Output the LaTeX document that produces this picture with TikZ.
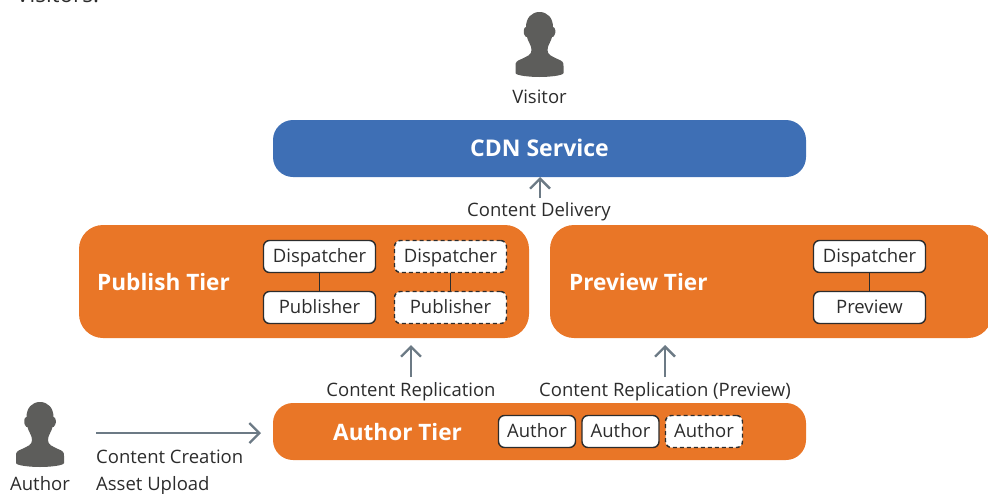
\documentclass[tikz,border=0pt]{standalone}
\usepackage{fontspec}
\setmainfont{Open Sans}
\usetikzlibrary{arrows.meta}
\definecolor{tierorange}{HTML}{E97627}
\definecolor{cdnblue}{HTML}{3E6FB5}
\definecolor{iconGray}{HTML}{5D5D5B}
\definecolor{arrowGray}{HTML}{6C7A85}
\definecolor{inkDark}{HTML}{2C2C2C}
\newcommand{\bodysize}{\fontsize{18.5}{20}\selectfont}
\newcommand{\titlesize}{\fontsize{22.6}{26}\selectfont\bfseries}
\tikzset{
  tier/.style={fill=tierorange,rounded corners=24,inner sep=0},
  tierlabel/.style={text=white,font=\titlesize,anchor=west,inner sep=0},
  cbox/.style={draw=inkDark,fill=white,line width=1.4pt,rounded corners=6,minimum height=32pt,text=inkDark,font=\bodysize,inner sep=0,text height=14pt,text depth=1.5pt},
  dbox/.style={cbox,dashed,dash pattern=on 4pt off 3pt},
  lbl/.style={text=inkDark,font=\bodysize,inner sep=0,text height=14pt,text depth=1.5pt},
  link/.style={draw=inkDark,line width=1.4pt},
  flow/.style={draw=arrowGray,line width=2.3pt,-{Straight Barb[length=10pt,width=20pt,line width=2.3pt]}},
  person/.pic={
    \fill[iconGray] (0,0) .. controls (8,0) and (13.5,6) .. (13.5,15)
      .. controls (16,15) and (16.5,21) .. (15,23) .. controls (14.5,25) and (13,25) .. (12.5,25)
      .. controls (11.5,30) and (8,33) .. (8,38) .. controls (8,43) and (12,44) .. (18,47)
      .. controls (23,49) and (24,50) .. (24,54) -- (24,61) .. controls (24,63.5) and (10,65) .. (0,65)
      .. controls (-10,65) and (-24,63.5) .. (-24,61) -- (-24,54) .. controls (-24,50) and (-23,49) .. (-18,47)
      .. controls (-12,44) and (-8,43) .. (-8,38) .. controls (-8,33) and (-11.5,30) .. (-12.5,25)
      .. controls (-13,25) and (-14.5,25) .. (-15,23) .. controls (-16.5,21) and (-16,15) .. (-13.5,15)
      .. controls (-13.5,6) and (-8,0) .. (0,0) -- cycle;
  }
}
\begin{document}
\begin{tikzpicture}[x=1pt,y=-1pt]
\useasboundingbox (0,0) rectangle (988,493);
\clip (0,0) rectangle (988,493);
% cropped heading
\node[text=inkDark,font=\fontsize{22.5}{26}\selectfont,inner sep=0,anchor=base west] (cut) at (16,2.5) {Visitors:};
% people
\pic at (539.5,12) {person};
\pic at (40,402) {person};
\node[lbl] (visitor) at (539.5,97) {Visitor};
\node[lbl] (author) at (40,484) {Author};
% tiers
\node[tier,fill=cdnblue,rounded corners=20,minimum width=533pt,minimum height=57pt] (cdn) at (539.5,148.5) {};
\node[text=white,font=\fontsize{23}{26}\selectfont\bfseries] (cdnt) at (539.5,148) {CDN Service};
\node[tier,minimum width=450pt,minimum height=113pt] (publish) at (304,281.5) {};
\node[tier,minimum width=442pt,minimum height=113pt] (preview) at (771,281.5) {};
\node[tier,rounded corners=20,minimum width=533pt,minimum height=57pt] (authortier) at (539.5,431.5) {};
\node[tierlabel] (pubt) at (97,282) {Publish Tier};
\node[tierlabel] (prevt) at (569,282) {Preview Tier};
\node[tierlabel] (autht) at (333,432) {Author Tier};
% boxes
\node[cbox,minimum width=112pt] (d1) at (319.5,256.5) {Dispatcher};
\node[cbox,minimum width=112pt] (p1) at (319.5,307.5) {Publisher};
\node[dbox,minimum width=112pt] (d2) at (450.5,256.5) {Dispatcher};
\node[dbox,minimum width=112pt] (p2) at (450.5,307.5) {Publisher};
\node[cbox,minimum width=112pt] (d3) at (869.5,256.5) {Dispatcher};
\node[cbox,minimum width=112pt] (p3) at (869.5,307.5) {Preview};
\node[cbox,minimum width=77pt] (a1) at (537,431.5) {Author};
\node[cbox,minimum width=77pt] (a2) at (620.5,431.5) {Author};
\node[dbox,minimum width=77pt] (a3) at (704,431.5) {Author};
\draw[link] (d1) -- (p1);
\draw[link] (d2) -- (p2);
\draw[link] (d3) -- (p3);
% labels
\node[lbl] (cdl) at (539,210) {Content Delivery};
\node[lbl] (crl) at (411,390) {Content Replication};
\node[lbl] (cpl) at (665,390) {Content Replication (Preview)};
\node[lbl,anchor=west] (ccl) at (96,457) {Content Creation};
\node[lbl,anchor=west] (aul) at (96,484) {Asset Upload};
% flows
\coordinate (cd0) at (540,198);
\coordinate (cr0) at (411,377);
\coordinate (cp0) at (665,377);
\coordinate (au0) at (96,433);
\coordinate (cdE) at (540,177);
\coordinate (crE) at (411,345);
\coordinate (cpE) at (665,345);
\coordinate (auE) at (261,433);
\draw[flow] (cd0) -- (cdE);
\draw[flow] (cr0) -- (crE);
\draw[flow] (cp0) -- (cpE);
\draw[flow] (au0) -- (auE);
\end{tikzpicture}
\end{document}
